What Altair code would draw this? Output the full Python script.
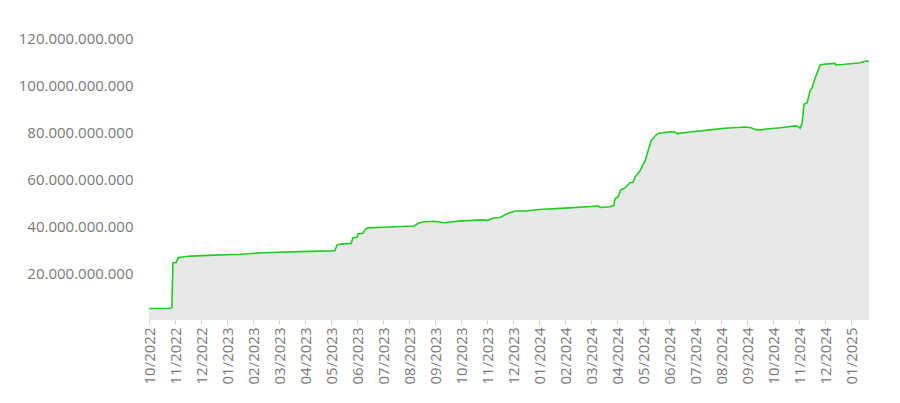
import altair as alt
import pandas as pd
import json

# x position in months since 10/2022 (fractional), value in units of 1e9
month_pos = [0.00, 0.80, 0.88, 0.92, 1.04, 1.12, 1.42, 1.64, 2.50, 3.50, 4.38, 5.81,
             7.00, 7.15, 7.23, 7.35, 7.77, 7.85, 8.00, 8.04, 8.23, 8.31, 8.42, 9.00,
             10.19, 10.38, 10.58, 11.00, 11.35, 11.50, 12.00, 12.88, 13.00, 13.27, 13.50,
             13.77, 14.08, 14.50, 15.00, 16.00, 17.00, 17.27, 17.35, 17.73, 17.88,
             17.92, 18.04, 18.15, 18.23, 18.31, 18.50, 18.62, 18.69, 18.88, 19.00,
             19.08, 19.19, 19.31, 19.46, 19.58, 20.04, 20.23, 20.31, 20.81, 21.58,
             22.15, 22.92, 23.12, 23.31, 23.50, 23.88, 24.27, 24.85, 24.96, 25.04,
             25.12, 25.19, 25.31, 25.42, 25.50, 25.62, 25.73, 25.81, 26.00, 26.38,
             26.42, 26.77, 27.35, 27.58, 27.69]
value_bn = [4.9, 4.9, 5.3, 24.3, 24.4, 26.5, 27.0, 27.2, 27.6, 28.0, 28.6, 29.1,
            29.4, 29.6, 31.9, 32.3, 32.6, 35.0, 35.2, 36.7, 36.9, 38.5, 39.2, 39.5,
            40.0, 41.3, 41.8, 42.0, 41.4, 41.6, 42.2, 42.6, 42.3, 43.5, 43.6,
            45.2, 46.4, 46.4, 47.0, 47.6, 48.3, 48.6, 47.9, 48.2, 48.8,
            51.6, 52.5, 55.5, 55.7, 56.3, 58.4, 58.6, 60.8, 63.4, 66.2,
            67.7, 71.9, 76.2, 78.3, 79.4, 80.1, 80.0, 79.3, 80.0, 80.9,
            81.6, 82.1, 81.9, 81.1, 80.9, 81.4, 81.8, 82.6, 82.3, 81.6,
            83.8, 91.8, 92.5, 97.4, 98.8, 103.1, 106.0, 108.5, 108.9, 109.2,
            108.5, 108.8, 109.5, 110.2, 110.0]

month_labels = ["10/2022", "11/2022", "12/2022", "01/2023", "02/2023", "03/2023",
                "04/2023", "05/2023", "06/2023", "07/2023", "08/2023", "09/2023",
                "10/2023", "11/2023", "12/2023", "01/2024", "02/2024", "03/2024",
                "04/2024", "05/2024", "06/2024", "07/2024", "08/2024", "09/2024",
                "10/2024", "11/2024", "12/2024", "01/2025"]
y_ticks = [20e9, 40e9, 60e9, 80e9, 100e9, 120e9]

df = pd.DataFrame({"m": month_pos, "v": [b * 1e9 for b in value_bn]})

FONT = "Open Sans"
GRAY = "#7a7a7a"

x_enc = alt.X("m:Q",
              scale=alt.Scale(domain=[0, 27.69], nice=False, zero=False),
              axis=alt.Axis(values=list(range(len(month_labels))),
                            labelExpr=json.dumps(month_labels) + "[datum.value]",
                            labelAngle=270, labelFont=FONT, labelFontSize=15,
                            labelColor=GRAY, tickColor="#cccccc", tickSize=4,
                            domain=False, grid=False, title=None, labelPadding=3,
                            labelOverlap=False))
y_enc = alt.Y("v:Q",
              scale=alt.Scale(domain=[0, 120e9], nice=False),
              axis=alt.Axis(values=y_ticks,
                            labelExpr="replace(format(datum.value, ',.0f'), regexp(',', 'g'), '.')",
                            labelFont=FONT, labelFontSize=15, labelColor=GRAY,
                            ticks=False, domain=False, grid=False, title=None,
                            labelPadding=16))

base = alt.Chart(df).encode(x=x_enc, y=y_enc)
area = base.mark_area(color="#e7e9e8", interpolate="linear")
line = base.mark_line(color="#22cc22", strokeWidth=1.6)

chart = (area + line).properties(
    width=720, height=282,
    autosize=alt.AutoSizeParams(type="none"),
    padding={"left": 141, "top": 30, "right": 20, "bottom": 75},
).configure_view(stroke=None)

chart.save("out.html", embed_options={"renderer": "svg", "actions": False})
